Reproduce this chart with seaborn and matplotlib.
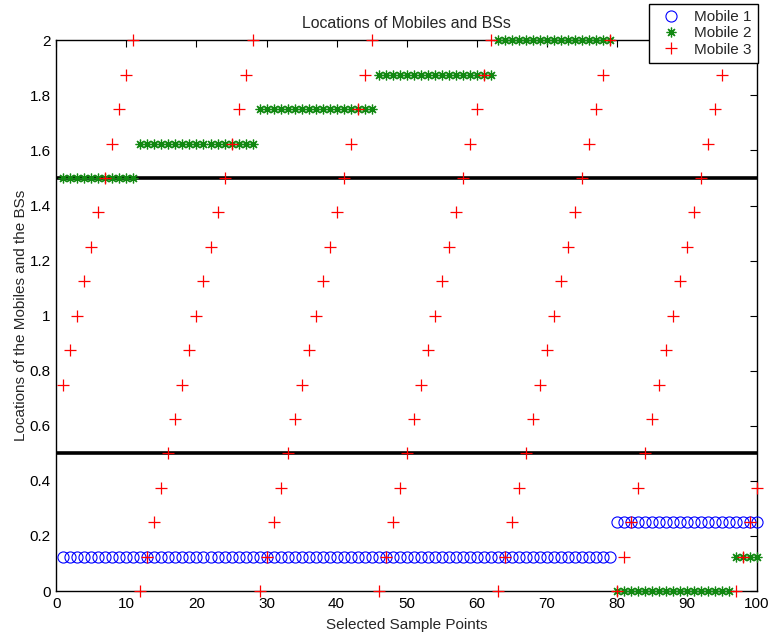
import matplotlib
matplotlib.use("Agg")
import matplotlib.pyplot as plt
import seaborn as sns
import pandas as pd
from matplotlib.ticker import FormatStrFormatter, MultipleLocator

# sample points 1..100
samples = list(range(1, 101))

# Mobile 1: 0.125 up to sample 79, then 0.25
mobile1 = [0.125] * 79 + [0.25] * 21

# Mobile 2: stepwise levels
mobile2 = ([1.5] * 11 + [1.625] * 17 + [1.75] * 17 + [1.875] * 17
           + [2.0] * 17 + [0.0] * 17 + [0.125] * 4)

# Mobile 3: sawtooth
mobile3 = [
    0.75, 0.875, 1.0, 1.125, 1.25, 1.375, 1.5, 1.625, 1.75, 1.875, 2.0,
    0.0, 0.125, 0.25, 0.375, 0.5, 0.625, 0.75, 0.875, 1.0, 1.125, 1.25, 1.375, 1.5, 1.625, 1.75, 1.875, 2.0,
    0.0, 0.125, 0.25, 0.375, 0.5, 0.625, 0.75, 0.875, 1.0, 1.125, 1.25, 1.375, 1.5, 1.625, 1.75, 1.875, 2.0,
    0.0, 0.125, 0.25, 0.375, 0.5, 0.625, 0.75, 0.875, 1.0, 1.125, 1.25, 1.375, 1.5, 1.625, 1.75, 1.875, 2.0,
    0.0, 0.125, 0.25, 0.375, 0.5, 0.625, 0.75, 0.875, 1.0, 1.125, 1.25, 1.375, 1.5, 1.625, 1.75, 1.875, 2.0,
    0.0, 0.125, 0.25, 0.375, 0.5, 0.625, 0.75, 0.875, 1.0, 1.125, 1.25, 1.375, 1.5, 1.625, 1.75, 1.875, 2.0,
    0.0, 0.125, 0.25, 0.375,
]

# base station boundaries
bs_levels = [0.5, 1.5]

df = pd.DataFrame({"x": samples, "m1": mobile1, "m2": mobile2, "m3": mobile3})

sns.set_theme(style="white")
plt.rcParams['font.family'] = ['Liberation Sans', 'DejaVu Sans']

fig = plt.figure(figsize=(7.73, 6.39), dpi=100)
ax = fig.add_axes([0.073, 0.075, 0.906, 0.862])

for lvl in bs_levels:
    ax.plot([0, 100], [lvl, lvl], color='black', linewidth=2.6, zorder=1)

sns.lineplot(data=df, x="x", y="m1", ax=ax, estimator=None, sort=False,
             linestyle='', marker='o', markersize=8, markerfacecolor='none',
             markeredgecolor='blue', markeredgewidth=0.8, color='blue',
             label='Mobile 1', clip_on=False, zorder=3)
sns.lineplot(data=df, x="x", y="m2", ax=ax, estimator=None, sort=False,
             linestyle='', marker=(8, 2, 0), markersize=7,
             markeredgecolor='#118811', markeredgewidth=0.9, color='#118811',
             label='Mobile 2', clip_on=False, zorder=4)
sns.lineplot(data=df, x="x", y="m3", ax=ax, estimator=None, sort=False,
             linestyle='', marker='+', markersize=9,
             markeredgecolor='red', markeredgewidth=0.9, color='red',
             label='Mobile 3', clip_on=False, zorder=5)

ax.set_xlim(0, 100)
ax.set_ylim(0, 2)
ax.xaxis.set_major_locator(MultipleLocator(10))
ax.yaxis.set_major_locator(MultipleLocator(0.2))
ax.yaxis.set_major_formatter(FormatStrFormatter('%g'))
ax.tick_params(direction='in', length=5, width=0.8, top=True, right=True,
               labelsize=11, colors='black', pad=4)
for sp in ax.spines.values():
    sp.set_color('black')
    sp.set_linewidth(1.0)

ax.set_title("Locations of Mobiles and BSs", fontsize=11.4, pad=9)
ax.set_xlabel("Selected Sample Points", fontsize=11, labelpad=5)
ax.set_ylabel("Locations of the Mobiles and the BSs", fontsize=11, labelpad=1)

leg = ax.legend(loc='upper right', bbox_to_anchor=(758 / 773, 1 - 4 / 639),
                bbox_transform=fig.transFigure, borderaxespad=0, fontsize=11,
                fancybox=False, framealpha=1, edgecolor='black', borderpad=0.4,
                labelspacing=0.15, handletextpad=0.45, handlelength=2.1)
leg.get_frame().set_linewidth(1.0)

fig.savefig("out.png", dpi=100)
